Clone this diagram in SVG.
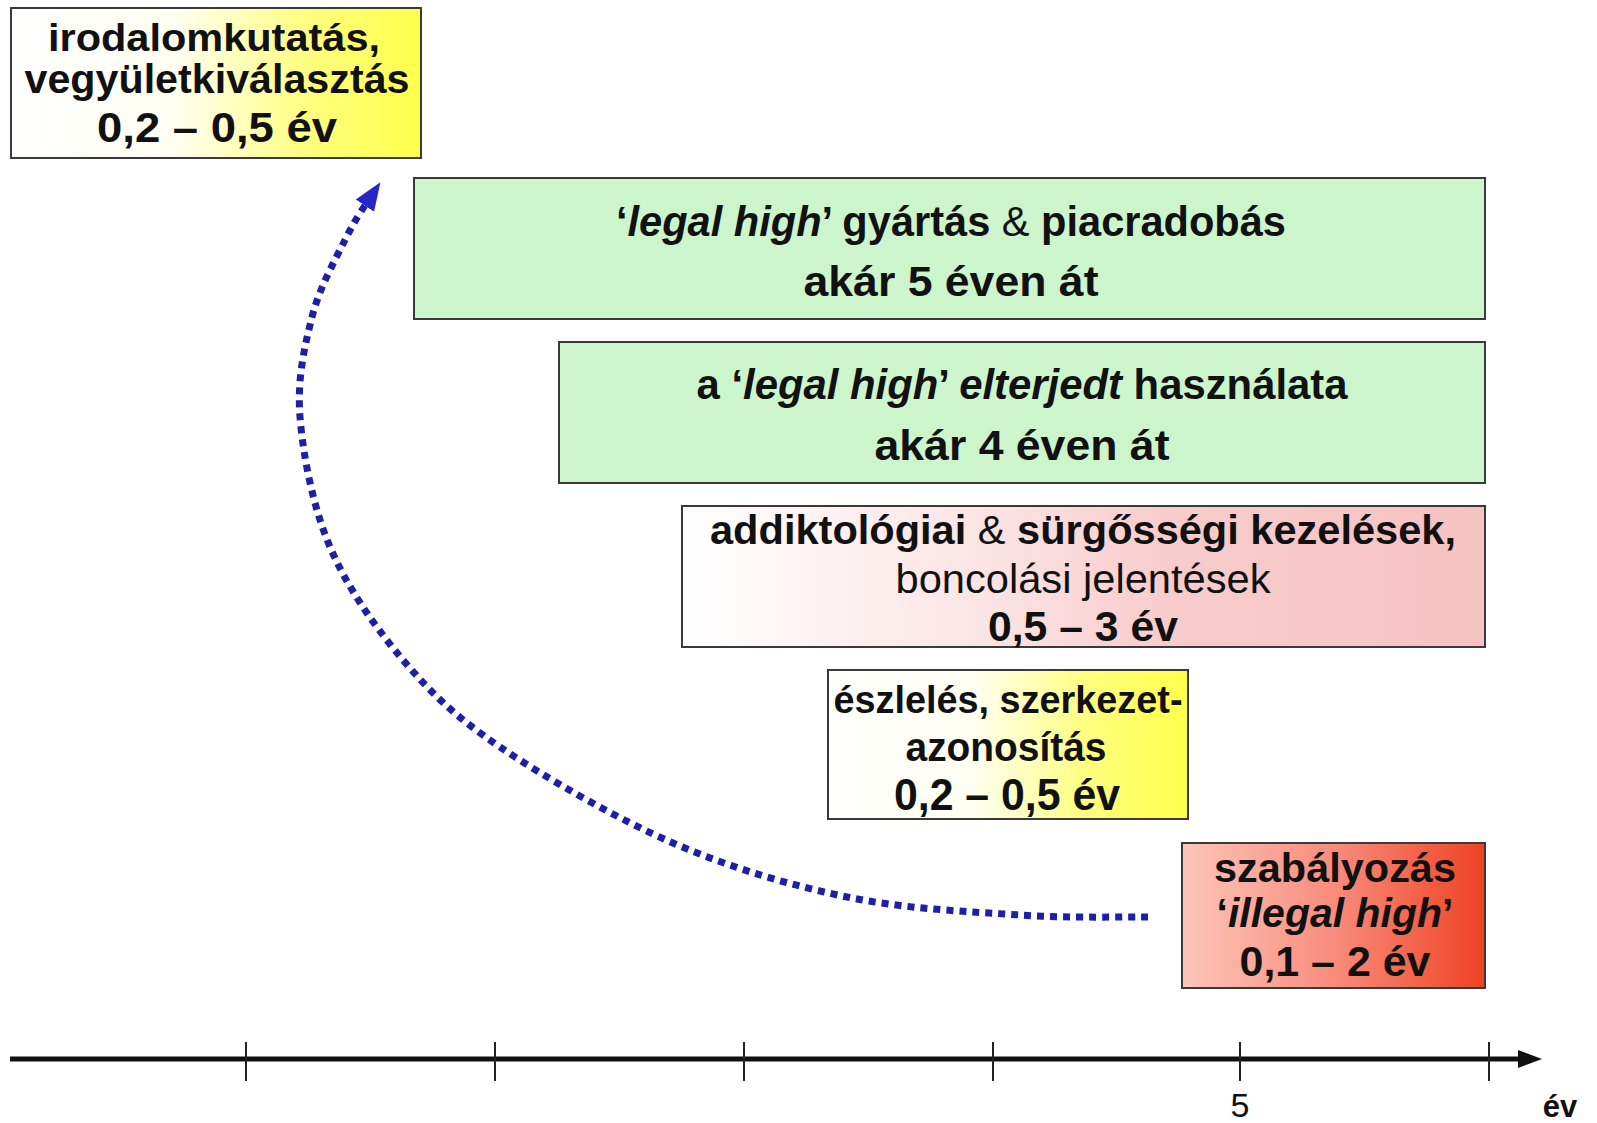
<svg xmlns="http://www.w3.org/2000/svg" width="1597" height="1123" viewBox="0 0 1597 1123">
<style>
text{font-family:"Liberation Sans",Arial,sans-serif;fill:#111;text-anchor:middle}
.b{font-weight:bold}
.n{font-weight:normal}
.i{font-style:italic}
.box{stroke:#3a3a3a;stroke-width:2}
.green{fill:#ccf5cc}
.tick{stroke:#222;stroke-width:2}
</style>
<defs>
<linearGradient id="gYellow" x1="0" y1="0" x2="1" y2="0">
<stop offset="0" stop-color="#ffffff"/>
<stop offset="0.4" stop-color="#fffff2"/>
<stop offset="0.72" stop-color="#ffff80"/>
<stop offset="1" stop-color="#ffff4a"/>
</linearGradient>
<linearGradient id="gPink" x1="0" y1="0" x2="1" y2="0">
<stop offset="0" stop-color="#ffffff"/>
<stop offset="0.4" stop-color="#fbe2e2"/>
<stop offset="0.6" stop-color="#f8cccc"/>
<stop offset="1" stop-color="#f6c2c2"/>
</linearGradient>
<linearGradient id="gRed" x1="0" y1="0" x2="1" y2="0">
<stop offset="0" stop-color="#fcc6ba"/>
<stop offset="0.5" stop-color="#f98c7c"/>
<stop offset="1" stop-color="#ee4222"/>
</linearGradient>
<marker id="arrBlue" markerUnits="userSpaceOnUse" markerWidth="30" markerHeight="30" refX="2" refY="11" orient="auto" viewBox="0 0 30 22">
<path d="M0,0 L28,11 L0,22 Z" fill="#2626c8"/>
</marker>
<marker id="arrAxis" markerUnits="userSpaceOnUse" markerWidth="26" markerHeight="20" refX="2" refY="9" orient="auto" viewBox="0 0 26 18">
<path d="M0,0 L24,9 L0,18 Z" fill="#111"/>
</marker>
</defs>
<rect width="1597" height="1123" fill="#ffffff"/>

<g id="connectors">
<path d="M1148,917 C1126.7,916.7 1070.2,918.3 1020,915 C969.8,911.7 904.8,909 847,897 C789.2,885 730.8,868 673,843 C615.2,818 545,777.5 500,747 C455,716.5 431.3,693.3 403,660 C374.7,626.7 347.2,587.5 330,547 C312.8,506.5 303,455.3 300,417 C297,378.7 304.5,346.5 312,317 C319.5,287.5 335,260.2 345,240 C355,219.8 362,210 366,204" fill="none" stroke="#1e1ea6" stroke-width="7" stroke-dasharray="7 6" marker-end="url(#arrBlue)"/>
</g>

<g id="axis">
<line x1="10" y1="1059" x2="1520" y2="1059" stroke="#111" stroke-width="5" marker-end="url(#arrAxis)"/>
<line class="tick" x1="246" y1="1042" x2="246" y2="1081"/>
<line class="tick" x1="495" y1="1042" x2="495" y2="1081"/>
<line class="tick" x1="744" y1="1042" x2="744" y2="1081"/>
<line class="tick" x1="993" y1="1042" x2="993" y2="1081"/>
<line class="tick" x1="1240" y1="1042" x2="1240" y2="1081"/>
<line class="tick" x1="1489" y1="1042" x2="1489" y2="1081"/>
<text x="1240" y="1117" font-size="34">5</text>
<text class="b" x="1560" y="1117" font-size="31">év</text>
</g>

<g id="node-irodalom">
<rect class="box" x="11" y="8" width="410" height="150" fill="url(#gYellow)"/>
<text class="b" x="214" y="51" font-size="38" textLength="332" lengthAdjust="spacingAndGlyphs">irodalomkutatás,</text>
<text class="b" x="217" y="93" font-size="40" textLength="385" lengthAdjust="spacingAndGlyphs">vegyületkiválasztás</text>
<text class="b" x="217" y="142" font-size="42" textLength="240" lengthAdjust="spacingAndGlyphs">0,2 – 0,5 év</text>
</g>

<g id="node-gyartas">
<rect class="box green" x="414" y="178" width="1071" height="141"/>
<text class="b" x="951" y="236" font-size="42" textLength="670" lengthAdjust="spacingAndGlyphs">‘<tspan class="i">legal high</tspan>’ gyártás <tspan class="n">&amp;</tspan> piacradobás</text>
<text class="b" x="951" y="296" font-size="42" textLength="295" lengthAdjust="spacingAndGlyphs">akár 5 éven át</text>
</g>

<g id="node-hasznalat">
<rect class="box green" x="559" y="342" width="926" height="141"/>
<text class="b" x="1022" y="399" font-size="42" textLength="651" lengthAdjust="spacingAndGlyphs">a ‘<tspan class="i">legal high</tspan>’ <tspan class="i">elterjedt</tspan> használata</text>
<text class="b" x="1022" y="460" font-size="42" textLength="295" lengthAdjust="spacingAndGlyphs">akár 4 éven át</text>
</g>

<g id="node-kezelesek">
<rect class="box" x="682" y="506" width="803" height="141" fill="url(#gPink)"/>
<text class="b" x="1083" y="544" font-size="40" textLength="746" lengthAdjust="spacingAndGlyphs">addiktológiai <tspan class="n">&amp;</tspan> sürgősségi kezelések,</text>
<text x="1083" y="593" font-size="40" textLength="375" lengthAdjust="spacingAndGlyphs">boncolási jelentések</text>
<text class="b" x="1083" y="641" font-size="42" textLength="190" lengthAdjust="spacingAndGlyphs">0,5 – 3 év</text>
</g>

<g id="node-eszleles">
<rect class="box" x="828" y="670" width="360" height="149" fill="url(#gYellow)"/>
<text class="b" x="1008" y="713" font-size="38" textLength="349" lengthAdjust="spacingAndGlyphs">észlelés, szerkezet-</text>
<text class="b" x="1006" y="761" font-size="40" textLength="201" lengthAdjust="spacingAndGlyphs">azonosítás</text>
<text class="b" x="1007" y="810" font-size="44" textLength="226" lengthAdjust="spacingAndGlyphs">0,2 – 0,5 év</text>
</g>

<g id="node-szabalyozas">
<rect class="box" x="1182" y="843" width="303" height="145" fill="url(#gRed)"/>
<text class="b" x="1335" y="882" font-size="40" textLength="242" lengthAdjust="spacingAndGlyphs">szabályozás</text>
<text class="b" x="1335" y="927" font-size="40" textLength="237" lengthAdjust="spacingAndGlyphs">‘<tspan class="i">illegal high</tspan>’</text>
<text class="b" x="1335" y="976" font-size="42" textLength="191" lengthAdjust="spacingAndGlyphs">0,1 – 2 év</text>
</g>
</svg>
